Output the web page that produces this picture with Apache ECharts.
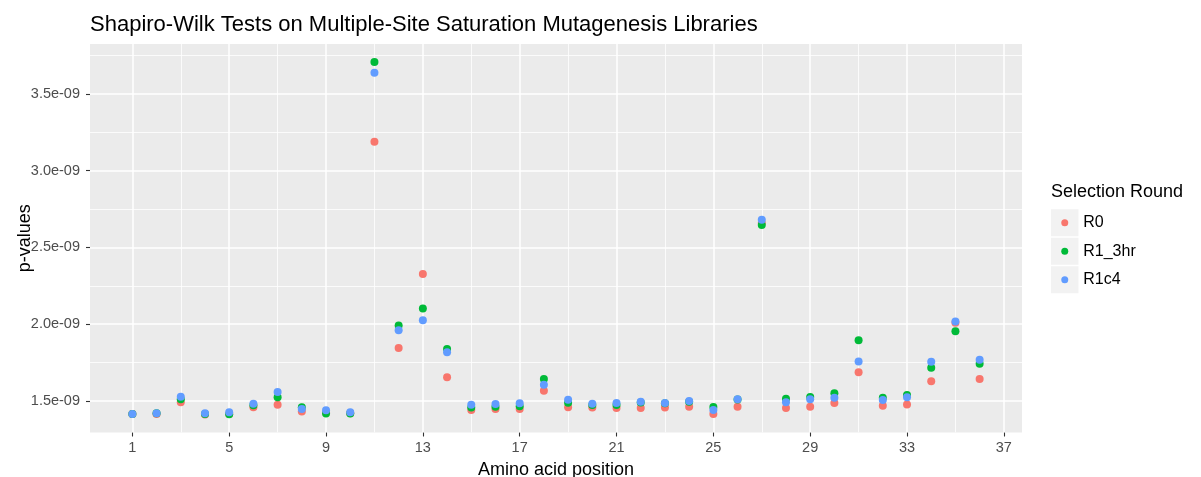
<!DOCTYPE html>
<html>
<head>
<meta charset="utf-8">
<title>Shapiro-Wilk Tests</title>
<script src="https://cdn.jsdelivr.net/npm/echarts@6/dist/echarts.min.js"></script>
<style>
  html, body { margin: 0; padding: 0; background: #ffffff; }
  #chart { width: 1201px; height: 477px; }
</style>
</head>
<body>
<div id="chart"></div>
<script>
// Amino acid positions along the library
const positions = [1, 2, 3, 4, 5, 6, 7, 8, 9, 10, 11, 12, 13, 14, 15, 16, 17, 18,
  19, 20, 21, 22, 23, 24, 25, 26, 27, 28, 29, 30, 31, 32, 33, 34, 35, 36];

// Shapiro-Wilk p-values per selection round
const r0 = [1.415e-9, 1.416e-9, 1.492e-9, 1.413e-9, 1.415e-9, 1.459e-9, 1.476e-9, 1.431e-9,
  1.425e-9, 1.420e-9, 3.188e-9, 1.846e-9, 2.327e-9, 1.654e-9, 1.442e-9, 1.448e-9, 1.448e-9,
  1.567e-9, 1.459e-9, 1.457e-9, 1.455e-9, 1.455e-9, 1.457e-9, 1.463e-9, 1.416e-9, 1.463e-9,
  2.660e-9, 1.455e-9, 1.463e-9, 1.487e-9, 1.688e-9, 1.470e-9, 1.478e-9, 1.628e-9, 2.010e-9,
  1.643e-9];
const r1_3hr = [1.415e-9, 1.420e-9, 1.511e-9, 1.415e-9, 1.414e-9, 1.472e-9, 1.524e-9, 1.459e-9,
  1.418e-9, 1.418e-9, 3.708e-9, 1.992e-9, 2.102e-9, 1.838e-9, 1.457e-9, 1.463e-9, 1.466e-9,
  1.643e-9, 1.489e-9, 1.474e-9, 1.474e-9, 1.490e-9, 1.485e-9, 1.495e-9, 1.461e-9, 1.510e-9,
  2.647e-9, 1.515e-9, 1.526e-9, 1.550e-9, 1.896e-9, 1.521e-9, 1.539e-9, 1.716e-9, 1.955e-9,
  1.742e-9];
const r1c4 = [1.415e-9, 1.420e-9, 1.528e-9, 1.420e-9, 1.427e-9, 1.482e-9, 1.558e-9, 1.448e-9,
  1.440e-9, 1.427e-9, 3.638e-9, 1.961e-9, 2.026e-9, 1.818e-9, 1.476e-9, 1.481e-9, 1.485e-9,
  1.606e-9, 1.508e-9, 1.482e-9, 1.487e-9, 1.495e-9, 1.487e-9, 1.500e-9, 1.442e-9, 1.511e-9,
  2.680e-9, 1.492e-9, 1.511e-9, 1.521e-9, 1.758e-9, 1.506e-9, 1.524e-9, 1.755e-9, 2.018e-9,
  1.768e-9];

const seriesNames = ['R0', 'R1_3hr', 'R1c4'];
const seriesColors = ['#F8766D', '#00BA38', '#619CFF'];

// Axis limits and breaks
const xMin = -0.75, xMax = 37.75;
const yMin = 1.295e-9, yMax = 3.825e-9;
const xTicks = [1, 5, 9, 13, 17, 21, 25, 29, 33, 37];
const xMinor = [3, 7, 11, 15, 19, 23, 27, 31, 35];
const yTicks = [1.5e-9, 2.0e-9, 2.5e-9, 3.0e-9, 3.5e-9];
const yMinor = [1.75e-9, 2.25e-9, 2.75e-9, 3.25e-9, 3.75e-9];

const FONT = 'Liberation Sans, Arial, Helvetica, sans-serif';

function sciLabel(v) {
  const e = Math.floor(Math.log10(v) + 1e-9);
  const m = v / Math.pow(10, e);
  const sign = e < 0 ? '-' : '+';
  return m.toFixed(1) + 'e' + sign + String(Math.abs(e)).padStart(2, '0');
}

function pairs(ys) {
  return positions.map((p, i) => [p, ys[i]]);
}

// White panel grid lines (major and minor) spanning the full panel
const vLine = w => v => ({ coords: [[v, yMin], [v, yMax]], lineStyle: { width: w } });
const hLine = w => v => ({ coords: [[xMin, v], [xMax, v]], lineStyle: { width: w } });
const gridLines = []
  .concat(xMinor.map(vLine(0.8)))
  .concat(yMinor.map(hLine(0.8)))
  .concat(xTicks.map(vLine(1.5)))
  .concat(yTicks.map(hLine(1.5)));

// Legend key geometry
const legendLeft = 1051, legendTop = 208.5, keySize = 28.5;

const chart = echarts.init(document.getElementById('chart'), null, { renderer: 'canvas' });
chart.setOption({
  animation: false,
  backgroundColor: '#ffffff',
  textStyle: { fontFamily: FONT },
  title: [
    {
      text: 'Shapiro-Wilk Tests on Multiple-Site Saturation Mutagenesis Libraries',
      left: 90, top: 14, padding: 0,
      textStyle: { fontSize: 22, fontWeight: 'normal', color: '#000000', fontFamily: FONT }
    },
    {
      text: 'Selection Round',
      left: legendLeft, top: 183.5, padding: 0,
      textStyle: { fontSize: 18, fontWeight: 'normal', color: '#000000', fontFamily: FONT }
    }
  ],
  legend: {
    orient: 'vertical',
    left: legendLeft + keySize / 2 - 4,
    top: legendTop,
    padding: 0,
    itemWidth: 7,
    itemHeight: 7,
    itemGap: 0,
    icon: 'circle',
    selectedMode: false,
    data: seriesNames,
    textStyle: { fontSize: 16, lineHeight: keySize, color: '#000000', fontFamily: FONT, padding: [0, 0, 0, 10] }
  },
  graphic: seriesNames.map((n, i) => ({
    type: 'rect',
    z: 1,
    shape: { x: legendLeft, y: legendTop + i * keySize + 0.75, width: 27.5, height: keySize - 1.5 },
    style: { fill: '#F2F2F2' }
  })),
  grid: {
    left: 90, right: 179, top: 44, bottom: 44.5,
    outerBoundsMode: 'none',
    containLabel: false,
    show: true, backgroundColor: '#EBEBEB', borderWidth: 0
  },
  xAxis: {
    type: 'value',
    min: xMin, max: xMax,
    name: 'Amino acid position',
    nameLocation: 'middle',
    nameGap: 29,
    nameTextStyle: { fontSize: 18, color: '#000000', fontFamily: FONT },
    axisLine: { show: false, onZero: false },
    axisTick: { show: true, customValues: xTicks, length: 4, lineStyle: { color: '#333333', width: 1.1 } },
    axisLabel: { customValues: xTicks, color: '#4D4D4D', fontSize: 14.5, margin: 8, fontFamily: FONT },
    splitLine: { show: false }
  },
  yAxis: {
    type: 'value',
    min: yMin, max: yMax,
    name: 'p-values',
    nameLocation: 'middle',
    nameRotate: 90,
    nameGap: 56,
    nameMoveOverlap: false,
    nameTextStyle: { fontSize: 18, color: '#000000', fontFamily: FONT },
    axisLine: { show: false, onZero: false },
    axisTick: { show: true, customValues: yTicks, length: 4, lineStyle: { color: '#333333', width: 1.1 } },
    axisLabel: { customValues: yTicks, color: '#4D4D4D', fontSize: 14.5, margin: 10, fontFamily: FONT, formatter: sciLabel },
    splitLine: { show: false }
  },
  series: [
    {
      name: 'panel-grid',
      type: 'lines',
      coordinateSystem: 'cartesian2d',
      z: 1,
      silent: true,
      polyline: false,
      symbol: ['none', 'none'],
      lineStyle: { color: '#FFFFFF', opacity: 1, type: 'solid', curveness: 0 },
      emphasis: { disabled: true },
      data: gridLines
    },
    ...[r0, r1_3hr, r1c4].map((ys, i) => ({
      name: seriesNames[i],
      type: 'scatter',
      z: 3,
      symbol: 'circle',
      symbolSize: 8,
      itemStyle: { color: seriesColors[i], opacity: 1 },
      data: pairs(ys)
    }))
  ]
});
</script>
</body>
</html>
